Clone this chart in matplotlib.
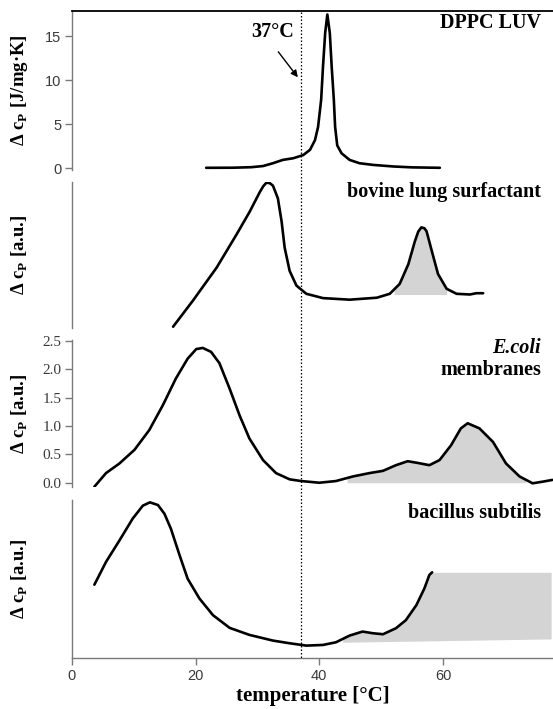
import numpy as np
import matplotlib
matplotlib.use('Agg')
import matplotlib.pyplot as plt
from matplotlib.lines import Line2D

# ---------------- data ----------------
dppc_T = [21.7, 26.0, 29.0, 30.9, 32.5, 34.1, 35.8, 37.4, 38.5, 39.3, 39.8, 40.3, 40.6,
          40.95, 41.3, 41.7, 42.0, 42.35, 42.56, 42.9, 43.6, 44.9, 46.5, 48.7, 52.0,
          55.0, 59.5]
dppc_cp = [0.05, 0.06, 0.12, 0.25, 0.57, 0.95, 1.14, 1.5, 2.1, 3.2, 4.7, 7.8, 11.6,
           15.4, 17.5, 15.4, 11.6, 7.8, 4.7, 2.6, 1.7, 0.95, 0.57, 0.38, 0.2,
           0.1, 0.05]

lung_T = [16.35, 19.6, 23.4, 26.6, 28.75, 30.4, 30.95, 31.45, 32.0, 32.5, 33.3, 33.9,
          34.4, 35.2, 36.3, 37.9, 40.6, 44.9, 49.3, 51.4, 53.0, 54.4, 55.45, 56.0, 56.5,
          57.0, 57.35, 58.2, 59.2, 60.6, 62.2, 64.35, 65.4, 66.5]
lung_cp = [-2.7, 0.0, 3.34, 6.7, 9.05, 11.07, 11.65, 12.0, 11.95, 11.7, 10.4, 8.05,
           5.36, 3.0, 1.5, 0.66, 0.22, 0.06, 0.26, 0.66, 1.67, 3.68, 6.0, 7.0, 7.44,
           7.35, 7.04, 5.02, 2.68, 1.17, 0.66, 0.59, 0.72, 0.72]
lung_fill_range = [52.1, 60.6]
lung_fill_base = 0.59

ecoli_T = [3.62, 5.5, 7.67, 10.1, 12.5, 14.7, 16.8, 18.7, 20.1, 21.15, 22.5, 23.85,
           25.5, 27.1, 28.7, 30.9, 33.0, 35.2, 37.05, 40.0, 42.7, 45.4, 48.1, 50.3,
           52.4, 54.3, 55.9, 57.8, 59.45, 61.3, 62.9, 64.0, 65.9, 68.1, 70.2, 72.4,
           74.5, 76.2, 77.7]
ecoli_cp = [-0.07, 0.17, 0.34, 0.58, 0.93, 1.37, 1.84, 2.19, 2.36, 2.38, 2.31, 2.11,
            1.66, 1.19, 0.78, 0.40, 0.17, 0.06, 0.03, 0.0, 0.03, 0.11, 0.17, 0.21,
            0.31, 0.38, 0.35, 0.31, 0.40, 0.66, 0.96, 1.05, 0.96, 0.72, 0.34, 0.11,
            -0.01, 0.02, 0.05]
ecoli_fill_range = [44.5, 73.4]

bac_T = [3.62, 5.5, 7.67, 9.8, 11.45, 12.6, 13.9, 14.95, 16.0, 17.4, 18.7, 20.6, 22.8,
         25.5, 28.7, 32.5, 35.2, 37.9, 40.6, 42.7, 44.9, 47.0, 48.65, 50.3, 52.4,
         54.0, 55.7, 57.0, 57.8, 58.25]
bac_cp = [2.19, 2.87, 3.51, 4.16, 4.55, 4.65, 4.57, 4.31, 3.86, 3.07, 2.37, 1.78, 1.28,
          0.90, 0.69, 0.52, 0.44, 0.37, 0.39, 0.47, 0.67, 0.79, 0.74, 0.71, 0.89,
          1.13, 1.58, 2.08, 2.48, 2.56]
bac_fill_T = [43.8, 77.5]
bac_fill_base = [0.47, 0.57]

x_ticks = [0, 20, 40, 60]
dppc_ticks = [0, 5, 10, 15]
ecoli_ticks = [0.0, 0.5, 1.0, 1.5, 2.0, 2.5]
marker_T = 37

# ---------------- figure ----------------
W, H = 553, 709
fig = plt.figure(figsize=(W / 100, H / 100), dpi=100)
LEFT = 72

def add_ax(top_px, bot_px):
    return fig.add_axes([LEFT / W, 1 - bot_px / H, 1 - LEFT / W, (bot_px - top_px) / H])

ax1 = add_ax(11, 170)
ax2 = add_ax(181.7, 328)
ax3 = add_ax(340, 486.7)
ax4 = add_ax(500, 658)
axes = [ax1, ax2, ax3, ax4]

SERIF = 'Liberation Serif'
SANS = 'Liberation Sans'
gray = '#7a7a7a'
tickc = '#3a3a3a'
fillc = '#d4d4d4'
LW = 1.9
lkw = dict(color='black', lw=LW, solid_joinstyle='round', solid_capstyle='round')

for ax in axes:
    ax.set_xlim(0, 77.8)
    for s in ['top', 'right', 'bottom']:
        ax.spines[s].set_visible(False)
    ax.spines['left'].set_color(gray)
    ax.spines['left'].set_linewidth(1.0)
    ax.tick_params(axis='x', bottom=False, labelbottom=False)
    ax.tick_params(axis='y', color=gray, length=5, width=1.0, direction='out', pad=2.5)
    ax.patch.set_alpha(0)

ax1.spines['top'].set_visible(True)
ax1.spines['top'].set_color('black')
ax1.spines['top'].set_linewidth(1.3)

# Panel 1: DPPC
ax1.plot(dppc_T, dppc_cp, **lkw)
ax1.set_ylim(-0.2, 17.9)
ax1.set_yticks(dppc_ticks)
ax1.set_yticklabels([str(t) for t in dppc_ticks], fontfamily=SANS, fontsize=10.5, color=tickc)

# Panel 2: bovine lung
ax2.plot(lung_T, lung_cp, **lkw)
lt = np.array(lung_T); lc = np.array(lung_cp)
xf = np.linspace(lung_fill_range[0], lung_fill_range[1], 200)
ax2.fill_between(xf, lung_fill_base, np.maximum(np.interp(xf, lt, lc), lung_fill_base),
                 color=fillc, lw=0, zorder=0)
ax2.set_ylim(-2.83, 12.1)
ax2.set_yticks([])

# Panel 3: E. coli
ax3.plot(ecoli_T, ecoli_cp, **lkw)
et = np.array(ecoli_T); ec = np.array(ecoli_cp)
xf = np.linspace(ecoli_fill_range[0], ecoli_fill_range[1], 300)
ax3.fill_between(xf, 0, np.interp(xf, et, ec), color=fillc, lw=0, zorder=0)
ax3.set_ylim(-0.07, 2.52)
ax3.set_yticks(ecoli_ticks)
ax3.set_yticklabels(['%.1f' % t for t in ecoli_ticks], fontfamily=SERIF, fontsize=11, color=tickc)

# Panel 4: bacillus
ax4.plot(bac_T, bac_cp, **lkw)
bt = np.array(bac_T); bc = np.array(bac_cp)
xf = np.linspace(bac_fill_T[0], bac_fill_T[1], 300)
upper = np.where(xf <= bt[-1], np.interp(xf, bt, bc), bc[-1])
lower = np.interp(xf, bac_fill_T, bac_fill_base)
ax4.fill_between(xf, lower, np.maximum(upper, lower), color=fillc, lw=0, zorder=0)
ax4.set_ylim(0, 4.72)
ax4.set_yticks([])
ax4.spines['bottom'].set_visible(True)
ax4.spines['bottom'].set_color(gray)
ax4.spines['bottom'].set_linewidth(1.0)
ax4.tick_params(axis='x', bottom=True, labelbottom=True, color=gray, length=5, width=1.0, pad=3)
ax4.set_xticks(x_ticks)
ax4.set_xticklabels([str(t) for t in x_ticks], fontfamily=SANS, fontsize=10.5, color=tickc)
ax4.set_xlabel('temperature [°C]', fontfamily=SERIF, fontweight='bold', fontsize=15, labelpad=2)

# y labels
ylab_x = (20 - LEFT) / (W - LEFT)
labels = ['Δ c$_\\mathregular{P}$ [J/mg·K]', 'Δ c$_\\mathregular{P}$ [a.u.]',
          'Δ c$_\\mathregular{P}$ [a.u.]', 'Δ c$_\\mathregular{P}$ [a.u.]']
for ax, lab in zip(axes, labels):
    ax.set_ylabel(lab, fontfamily=SERIF, fontweight='bold', fontsize=13.5)
    ax.yaxis.label.set_verticalalignment('center')
    ax.yaxis.set_label_coords(ylab_x, 0.5)

# panel titles
tx = (541 - LEFT) / (W - LEFT)
tkw = dict(fontfamily=SERIF, fontweight='bold', fontsize=14.5, ha='right', va='center')
ax1.text(tx, 0.926, 'DPPC LUV', transform=ax1.transAxes, **tkw)
ax2.text(tx, 0.933, 'bovine lung surfactant', transform=ax2.transAxes, **tkw)
ax3.text(tx, 0.945, 'E.coli', transform=ax3.transAxes, style='italic', **tkw)
ax3.text(tx, 0.795, 'membranes', transform=ax3.transAxes, **tkw)
ax4.text(tx, 0.915, 'bacillus subtilis', transform=ax4.transAxes, **tkw)

# 37 °C annotation
ax1.annotate('', xy=(36.8, 10.1), xytext=(33.1, 13.5),
             arrowprops=dict(arrowstyle='-|>', color='black', lw=1.0, mutation_scale=10))
ax1.text(32.4, 15.5, '37°C', fontfamily=SERIF, fontweight='bold', fontsize=14.5,
         ha='center', va='center')

# dotted vertical line across all panels
fig.canvas.draw()
xpix = ax4.transData.transform((marker_T, 0))[0]
xfig = xpix / fig.bbox.width
fig.add_artist(Line2D([xfig, xfig], [1 - 11.7 / H, 1 - 658 / H], transform=fig.transFigure,
                      color='black', lw=0.9, linestyle=(0, (1.2, 1.6))))

fig.savefig('out.png', dpi=100)
